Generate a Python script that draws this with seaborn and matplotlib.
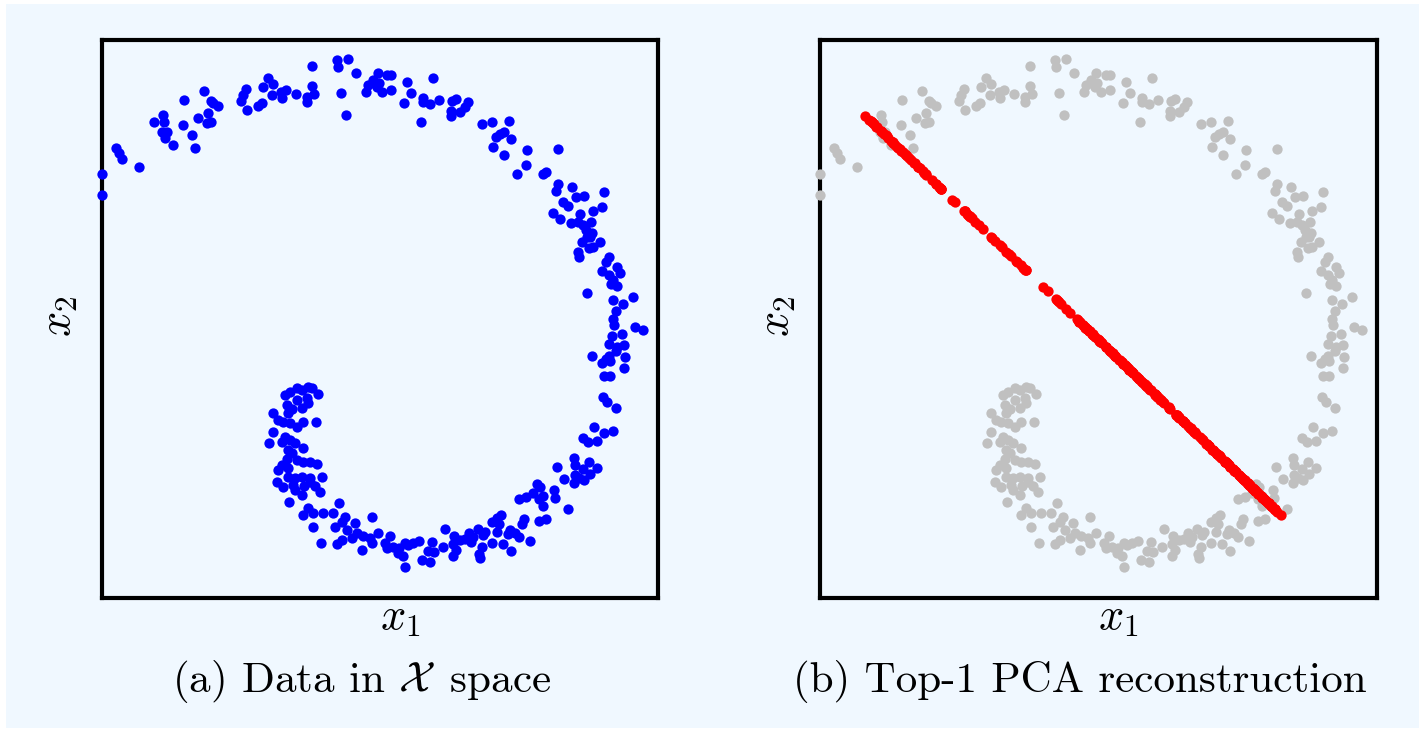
import numpy as np
import pandas as pd
import seaborn as sns
import matplotlib.pyplot as plt
from matplotlib.patches import Rectangle

# 2-D swiss-roll samples (arbitrary units)
x1_vals = [
    -278, -278, -264, -261, -258, -241, -226, -217, -216, -218, -213, -215, -207,
    -196, -197, -188, -185, -182, -176, -172, -169, -167, -162, -173, -169, -139,
    -137, -134, -133, -122, -118, -117, -112, -107, -108, -99, -98,
    -94, -84, -73, -73, -68, -68, -66, -43, -42, -32, -24, -39, -34, -14, -12,
    -7, -2, -3, 2, -1, 7, 11, 11, 27, 24, 31, 53, 43, 43, 50, 59, 41, 72, 76,
    71, 71, 80, 85, 88,
    102, 112, 129, 116, 120, 124, 131, 113, 124, 147, 178, 146, 137, 163, 166,
    178, 176, 192, 196, 204, 224, 183, 188, 173, 180, 200, 213, 222, 191, 198,
    203, 211, 206, 212, 207, 210, 202, 220, 209, 213, 198, 199, 229,
    226, 237, 240, 222, 229, 233, 231, 237, 207, 233, 243, 253, 236, 233, 234,
    255, 263, 232, 242, 229, 237, 244, 236, 212, 229, 226, 230, 222, 245, 244,
    224, 230, 223, 227, 236,
    214, 224, 233, 203, 208, 217, 194, 195, 209, 217, 203, 210, 177, 184, 195,
    194, 204, 199, 157, 160, 174, 153, 163, 159, 175, 146, 139, 163, 188, 121,
    117, 112, 119, 144, 142, 159, 166, 65, 74, 89, 98, 105, 117, 130, 128, 135,
    139, 93, 103, 80, 85, 91, 112, 123, 150, 73, 63, 102, 76, 99, 131, 73, 100,
    -103, -97, -87, -85, -78, -70, -60, -91, -41, -72, -77, -67, -57, -47, -35,
    -8, -67, -45, -38, -25, -33, -23, -17, -10, -2, 10, -28, -38, -43, -59, -8,
    -18, 5, 7, 13, 19, 25, 28, 33, 39, 52, 48, 54, 18, 23, 25, 42, 50, -76, -65,
    -95, -90, -83, -78, -72, -68, -62, -73, -83, -93, -72, -78, -88, -92, -107,
    -102, -97, -90, -77, -64, -83, -107, -111, -98, -95, -90, -85, -77, -92,
    -88, -93, -83, -77, -70, -63, -98, -102, -92, -92, -85, -78, -70, -58,
]
x2_vals = [
    146, 125, 172, 167, 161, 153, 198, 205, 198, 188, 188, 182, 175,
    220, 195, 185, 172, 202, 229, 207, 219, 217, 214, 197, 198, 219,
    225, 231, 210, 214, 217, 233, 242, 236, 225, 228, 222,
    230, 226, 223, 218, 254, 234, 226, 260, 253, 261, 247, 227, 205, 228, 235,
    240, 247, 233, 228, 237, 245, 245, 230, 238, 217, 227, 242, 222, 218, 216,
    220, 198, 219, 221, 209, 204, 208, 213, 218,
    196, 198, 199, 183, 186, 188, 181, 173, 165, 170, 171, 155, 146, 146, 148,
    136, 129, 133, 123, 124, 128, 118, 114, 107, 101, 106, 109, 113, 97, 98,
    95, 98, 90, 87, 83, 83, 78, 78, 72, 73, 68, 63, 63,
    58, 53, 47, 49, 45, 40, 36, 34, 27, 20, 16, 23, 9, 1, -5,
    -7, -10, -16, -14, -24, -27, -25, -31, -36, -36, -39, -41, -43, -37, -48,
    -56, -56, -77, -82, -88,
    -107, -113, -111, -118, -122, -121, -138, -145, -142, -148, -149, -154,
    -147, -159, -155, -163, -160, -158, -164, -167, -170, -173, -176, -179,
    -178, -177, -179, -186, -189, -195, -198, -202, -204, -199, -204, -201,
    -199, -209, -216, -213, -209, -212, -212, -210, -214, -213, -217, -217,
    -215, -220, -219, -222, -223, -224, -221, -224, -227, -227, -230, -234,
    -231, -236, -238,
    -162, -167, -165, -170, -175, -162, -172, -182, -183, -188, -195, -193,
    -193, -193, -197, -197, -207, -207, -202, -203, -210, -213, -216, -218,
    -213, -216, -218, -220, -224, -223, -223, -230, -223, -228, -227, -228,
    -223, -225, -223, -221, -222, -231, -232, -233, -236, -247, -240, -242,
    -166, -166,
    -75, -72, -68, -70, -67, -68, -74, -78, -80, -85, -83, -88, -89, -93, -93,
    -100, -102, -103, -102, -102, -107, -112, -123, -122, -117, -120, -123,
    -128, -130, -133, -139, -140, -142, -142, -144, -145, -150, -148, -157,
    -158, -157, -158, -157,
]

# first principal axis: a point on it and its angle
pc_center = [0, -20]
pc_angle_deg = -43.9

data = pd.DataFrame({'x1': x1_vals, 'x2': x2_vals})

# top-1 reconstruction: project every sample onto the principal axis
X = data[['x1', 'x2']].to_numpy(dtype=float)
mu = np.array(pc_center, dtype=float)
theta = np.deg2rad(pc_angle_deg)
pc = np.array([np.cos(theta), np.sin(theta)])
recon = mu + np.outer((X - mu) @ pc, pc)
rec = pd.DataFrame({'x1': recon[:, 0], 'x2': recon[:, 1]})

plt.rcParams['mathtext.fontset'] = 'cm'
plt.rcParams['font.family'] = 'serif'
plt.rcParams['font.serif'] = ['cmr10', 'DejaVu Serif']
plt.rcParams['axes.unicode_minus'] = False

bg = '#F0F8FF'
W, H = 1425, 732
fig = plt.figure(figsize=(W / 100, H / 100), dpi=100, facecolor='white')
fig.patches.append(Rectangle((6 / W, 4 / H), (1419 - 6) / W, (728 - 4) / H,
                             transform=fig.transFigure, facecolor=bg,
                             edgecolor='none', zorder=-10))

ax1 = fig.add_axes([102 / W, 1 - 598 / H, 556 / W, 558 / H])
ax2 = fig.add_axes([820 / W, 1 - 598 / H, 557 / W, 558 / H])

sns.scatterplot(data=data, x='x1', y='x2', ax=ax1, color='#0000FF', s=55,
                linewidth=0, clip_on=False, zorder=3)
sns.scatterplot(data=data, x='x1', y='x2', ax=ax2, color='#C0C0C0', s=55,
                linewidth=0, clip_on=False, zorder=3)
sns.scatterplot(data=rec, x='x1', y='x2', ax=ax2, color='#FF0000', s=55,
                linewidth=0, clip_on=False, zorder=4)

for ax in (ax1, ax2):
    ax.set_xlim(-278, 278)
    ax.set_ylim(-278, 280)
    ax.set_facecolor(bg)
    ax.set_xticks([])
    ax.set_yticks([])
    ax.set_xlabel('')
    ax.set_ylabel('')
    for sp in ax.spines.values():
        sp.set_linewidth(3)
        sp.set_color('black')

fs_lab = 32
fs_cap = 31
for dx in (0, 718):
    fig.text((400 + dx) / W, 1 - 629 / H, '$x_1$', ha='center', va='baseline',
             fontsize=fs_lab)
    fig.text((60 + dx) / W, 1 - 316 / H, '$x_2$', ha='center', va='center',
             rotation=90, fontsize=fs_lab)

fig.text(362 / W, 1 - 692 / H, r'(a) Data in $\mathcal{X}\,$ space', ha='center',
         va='baseline', fontsize=fs_cap)
fig.text(1080 / W, 1 - 692 / H, '(b) Top-1 PCA reconstruction', ha='center',
         va='baseline', fontsize=fs_cap)

fig.savefig('out.png', dpi=100, facecolor='white')
